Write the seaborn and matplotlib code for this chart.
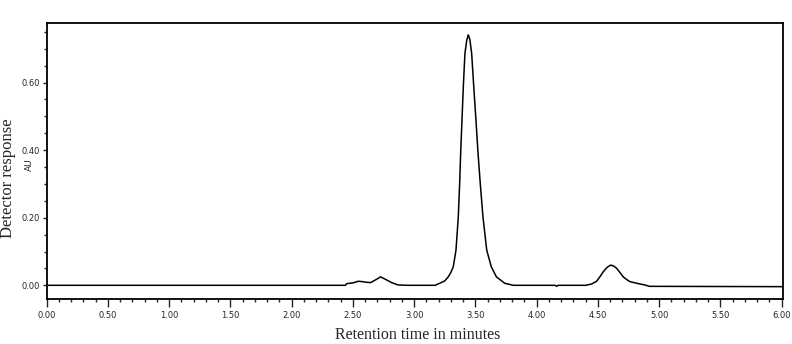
import matplotlib
matplotlib.use("Agg")
import matplotlib.pyplot as plt
from matplotlib import font_manager
from matplotlib.ticker import MultipleLocator, FormatStrFormatter
import seaborn as sns
import pandas as pd

# ---- data ----
time_min = [0.00, 2.44, 2.45, 2.50, 2.545, 2.575, 2.61, 2.645, 2.69, 2.727, 2.77,
            2.817, 2.87, 2.95, 3.171, 3.209, 3.25, 3.279, 3.300, 3.320, 3.342,
            3.361, 3.372, 3.381, 3.391, 3.402, 3.415, 3.430, 3.442, 3.455, 3.470,
            3.487, 3.505, 3.522, 3.540, 3.562, 3.593, 3.630, 3.672, 3.740, 3.81,
            4.15, 4.164, 4.175, 4.40, 4.45, 4.490, 4.52, 4.544, 4.575, 4.605,
            4.63, 4.654, 4.68, 4.707, 4.735, 4.762, 4.817, 4.884, 4.92, 6.01]
response_au = [0.000, 0.000, 0.005, 0.007, 0.012, 0.011, 0.009, 0.008, 0.017, 0.025, 0.017,
               0.008, 0.001, 0.000, 0.000, 0.006, 0.013, 0.025, 0.038, 0.055, 0.104,
               0.203, 0.302, 0.400, 0.489, 0.588, 0.686, 0.725, 0.741, 0.728, 0.686,
               0.588, 0.489, 0.391, 0.302, 0.203, 0.104, 0.055, 0.025, 0.006, 0.000,
               0.000, -0.003, 0.000, 0.000, 0.004, 0.012, 0.027, 0.040, 0.053, 0.060,
               0.057, 0.050, 0.038, 0.025, 0.017, 0.011, 0.006, 0.001, -0.003, -0.004]

x_ticks = [0.0, 0.5, 1.0, 1.5, 2.0, 2.5, 3.0, 3.5, 4.0, 4.5, 5.0, 5.5, 6.0]
y_ticks = [0.0, 0.2, 0.4, 0.6]

df = pd.DataFrame({"time": time_min, "response": response_au})

sns.set_style("ticks")
names = {f.name for f in font_manager.fontManager.ttflist}
tick_font = "Liberation Sans Narrow" if "Liberation Sans Narrow" in names else "DejaVu Sans"
serif_font = "Liberation Serif" if "Liberation Serif" in names else "DejaVu Serif"
plt.rcParams["font.family"] = [tick_font, "DejaVu Sans"]

fig = plt.figure(figsize=(7.92, 3.44), dpi=100)
ax = fig.add_axes([46.5 / 792, 1 - 299 / 344, (783 - 46.5) / 792, (299 - 22.7) / 344])

sns.lineplot(data=df, x="time", y="response", ax=ax, color="black",
             linewidth=1.1, sort=False, estimator=None)

ax.set_xlim(0, 6.011)
ax.set_ylim(-0.0405, 0.777)
ax.set_xticks(x_ticks)
ax.set_yticks(y_ticks)
ax.xaxis.set_minor_locator(MultipleLocator(0.1))
ax.yaxis.set_minor_locator(MultipleLocator(0.05))
ax.xaxis.set_major_formatter(FormatStrFormatter("%.2f"))
ax.yaxis.set_major_formatter(FormatStrFormatter("%.2f"))
ax.tick_params(axis="x", which="major", length=6, width=1, labelsize=6, pad=3, direction="out")
ax.tick_params(axis="x", which="minor", length=2.5, width=1, direction="out")
ax.tick_params(axis="y", which="major", length=3, width=1, labelsize=6, pad=2, direction="out")
ax.tick_params(axis="y", which="minor", length=2.5, width=1, direction="out")
for s in ax.spines.values():
    s.set_visible(True)
    s.set_linewidth(1.3)
    s.set_color("black")
ax.set_xlabel("")
ax.set_ylabel("")

fig.text(8.5 / 792, 1 - 178.5 / 344, "Detector response", rotation=90,
         ha="center", va="center", fontsize=12, family=serif_font)
fig.text(29 / 792, 1 - 165 / 344, "AU", rotation=90, ha="center", va="center",
         fontsize=6.5)
fig.text(417.5 / 792, 1 / 344, "Retention time in minutes",
         ha="center", va="bottom", fontsize=11.5, family=serif_font)

fig.savefig("out.png", dpi=100)
